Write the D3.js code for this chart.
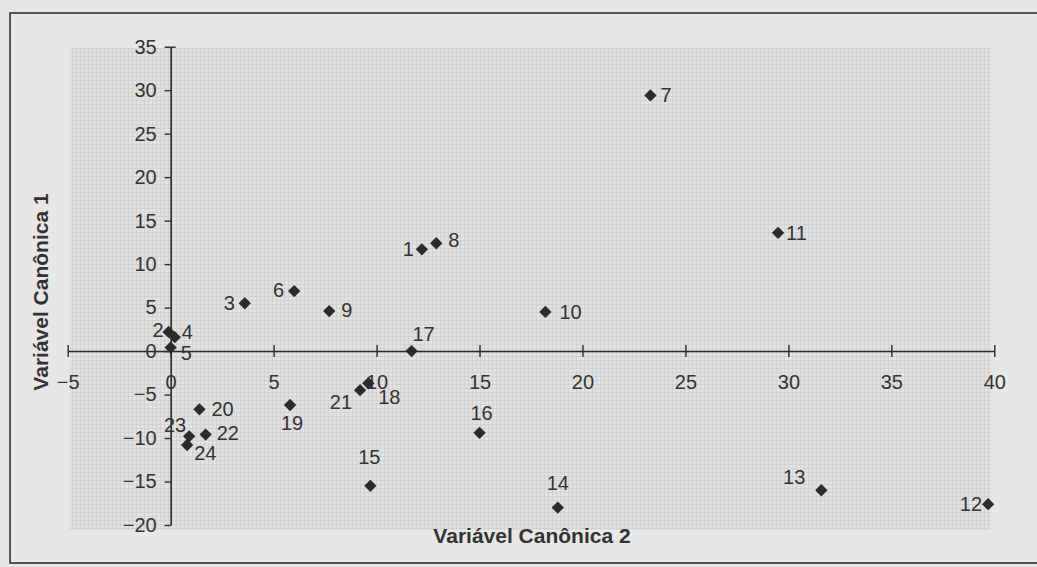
<!DOCTYPE html>
<html>
<head>
<meta charset="utf-8">
<script src="https://cdn.jsdelivr.net/npm/d3@7"></script>
<style>
  html, body { margin: 0; padding: 0; background: #e7e7e7; }
  svg { display: block; }
</style>
</head>
<body>
<div id="chart"></div>
<script>
// Canonical scores
const pointNames = ['1','2','3','4','5','6','7','8','9','10','11','12','13','14','15','16','17','18','19','20','21','22','23','24'];
const canonical2 = [12.2, -0.1, 3.6, 0.2, 0.0, 6.0, 23.3, 12.9, 7.7, 18.2, 29.5, 39.7, 31.6, 18.8, 9.7, 15.0, 11.7, 9.6, 5.8, 1.4, 9.2, 1.7, 0.9, 0.8];
const canonical1 = [11.7, 2.2, 5.5, 1.6, 0.4, 6.9, 29.4, 12.4, 4.6, 4.5, 13.6, -17.6, -16.0, -18.0, -15.5, -9.4, 0.0, -3.7, -6.2, -6.7, -4.5, -9.6, -9.8, -10.8];
const xTicks = [-5, 0, 5, 10, 15, 20, 25, 30, 35, 40];
const yTicks = [-20, -15, -10, -5, 0, 5, 10, 15, 20, 25, 30, 35];
const xTitle = 'Variável Canônica 2';
const yTitle = 'Variável Canônica 1';

// label placement relative to the marker (pixels)
const labelOffset = {
  '1': [-8, 7, 'end'], '2': [-5, 5, 'end'], '3': [-10, 7, 'end'], '4': [7, 2, 'start'],
  '5': [10, 12, 'start'], '6': [-10, 6, 'end'], '7': [10, 7, 'start'], '8': [12, 4, 'start'],
  '9': [12, 6, 'start'], '10': [14, 7, 'start'], '11': [8, 7, 'start'], '12': [-6, 7, 'end'],
  '13': [-16, -6, 'end'], '14': [0, -18, 'middle'], '15': [-1, -22, 'middle'], '16': [2, -13, 'middle'],
  '17': [12, -10, 'middle'], '18': [21, 21, 'middle'], '19': [2, 25, 'middle'], '20': [12, 7, 'start'],
  '21': [-8, 19, 'end'], '22': [11, 5, 'start'], '23': [-3, -4, 'end'], '24': [7, 15, 'start']
};

const W = 1037, H = 567;
const ink = '#2b2b2b';
const font = '"Liberation Sans", Arial, sans-serif';

const svg = d3.select('#chart').append('svg')
  .attr('width', W).attr('height', H)
  .attr('viewBox', `0 0 ${W} ${H}`);

// scanned grid texture behind the plot
const defs = svg.append('defs');
const pat = defs.append('pattern')
  .attr('id', 'grain').attr('width', 4).attr('height', 4)
  .attr('patternUnits', 'userSpaceOnUse');
pat.append('rect').attr('width', 4).attr('height', 4).attr('fill', '#e2e2e2');
pat.append('path').attr('d', 'M0,0.5H4M0.5,0V4')
  .attr('stroke', '#cfcfcf').attr('stroke-width', 0.8);

svg.append('rect')
  .attr('x', 10).attr('y', 13)
  .attr('width', W + 20).attr('height', 550)
  .attr('fill', 'none').attr('stroke', '#333').attr('stroke-width', 1.6);

const x = d3.scaleLinear().domain([-5, 40]).range([67.7, 994.3]);
const y = d3.scaleLinear().domain([-20, 35]).range([525, 46.7]);

svg.append('rect')
  .attr('x', 70).attr('y', 48)
  .attr('width', 921).attr('height', 482)
  .attr('fill', 'url(#grain)');

// x axis crossing at y = 0
const xAxis = svg.append('g')
  .attr('transform', `translate(0,${y(0)})`)
  .call(d3.axisBottom(x).tickValues(xTicks).tickSize(6).tickSizeOuter(0).tickFormat(d3.format('d')));
xAxis.selectAll('.tick line').attr('y1', -6).attr('y2', 6);
xAxis.selectAll('.tick text').attr('y', 31).attr('dy', '0.35em');

// y axis crossing at x = 0
const yAxis = svg.append('g')
  .attr('transform', `translate(${x(0)},0)`)
  .call(d3.axisLeft(y).tickValues(yTicks).tickSize(6).tickSizeOuter(0).tickFormat(d3.format('d')));
yAxis.selectAll('.tick text').attr('x', -14);
yAxis.select('.tick:last-of-type line').attr('x1', 5).attr('x2', -6);

[xAxis, yAxis].forEach(a => {
  a.select('.domain').attr('stroke', ink).attr('stroke-width', 1.6);
  a.selectAll('.tick line').attr('stroke', ink).attr('stroke-width', 1.4);
  a.selectAll('.tick text')
    .attr('fill', '#333').style('font-family', font).style('font-size', '20px');
});

const pts = pointNames.map((n, i) => ({ name: n, cx: canonical2[i], cy: canonical1[i] }));

svg.append('g').selectAll('path')
  .data(pts)
  .join('path')
  .attr('d', d3.symbol().type(d3.symbolSquare).size(76))
  .attr('transform', d => `translate(${x(d.cx)},${y(d.cy)}) rotate(45)`)
  .attr('fill', ink);

svg.append('g').selectAll('text')
  .data(pts)
  .join('text')
  .attr('x', d => x(d.cx) + labelOffset[d.name][0])
  .attr('y', d => y(d.cy) + labelOffset[d.name][1])
  .attr('text-anchor', d => labelOffset[d.name][2])
  .attr('fill', '#333')
  .style('font-family', font)
  .style('font-size', '20px')
  .text(d => d.name);

svg.append('text')
  .attr('x', 532).attr('y', 543)
  .attr('text-anchor', 'middle')
  .attr('fill', '#333')
  .style('font-family', font).style('font-size', '21px').style('font-weight', 'bold')
  .text(xTitle);

svg.append('text')
  .attr('transform', 'translate(48,292) rotate(-90)')
  .attr('text-anchor', 'middle')
  .attr('fill', '#333')
  .style('font-family', font).style('font-size', '21px').style('font-weight', 'bold')
  .text(yTitle);
</script>
</body>
</html>
